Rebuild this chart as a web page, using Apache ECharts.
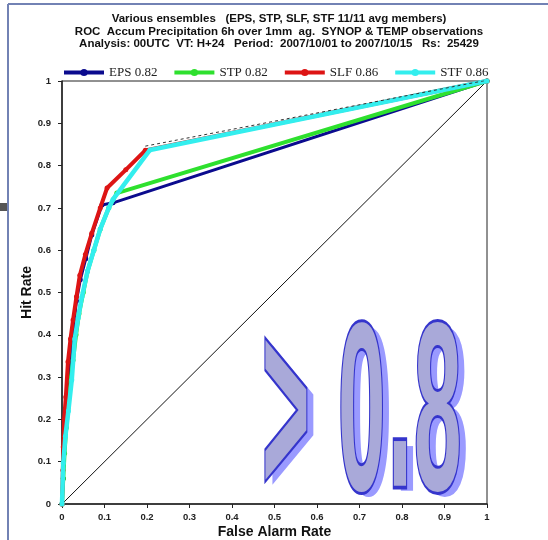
<!DOCTYPE html>
<html>
<head>
<meta charset="utf-8">
<style>
  html, body { margin: 0; padding: 0; background: #ffffff; }
  #chart { width: 548px; height: 540px; }
</style>
<script src="https://cdn.jsdelivr.net/npm/echarts@6/dist/echarts.min.js"></script>
</head>
<body>
<div id="chart"></div>
<script>
// ROC curves: false alarm rate (x) vs hit rate (y) for each ensemble
const epsFar = [0, 0.003, 0.005, 0.008, 0.012, 0.016, 0.021, 0.027, 0.034, 0.043, 0.056, 0.070, 0.094, 0.120, 1];
const epsHit = [0, 0.06, 0.12, 0.18, 0.24, 0.30, 0.36, 0.42, 0.48, 0.53, 0.58, 0.636, 0.707, 0.712, 1];

const stpFar = [0, 0.003, 0.006, 0.010, 0.015, 0.020, 0.026, 0.033, 0.040, 0.050, 0.060, 0.075, 0.090, 0.110, 0.129, 1];
const stpHit = [0, 0.06, 0.12, 0.18, 0.23, 0.29, 0.34, 0.40, 0.45, 0.50, 0.55, 0.60, 0.65, 0.70, 0.735, 1];

const slfFar = [0, 0.002, 0.003, 0.005, 0.009, 0.014, 0.020, 0.026, 0.034, 0.042, 0.055, 0.070, 0.090, 0.106, 0.150, 0.196, 1];
const slfHit = [0, 0.08, 0.135, 0.20, 0.253, 0.336, 0.39, 0.435, 0.49, 0.541, 0.59, 0.64, 0.70, 0.747, 0.79, 0.836, 1];

const stfFar = [0, 0.003, 0.008, 0.015, 0.023, 0.030, 0.038, 0.047, 0.060, 0.075, 0.090, 0.110, 0.120, 0.207, 1];
const stfHit = [0, 0.097, 0.16, 0.22, 0.293, 0.39, 0.44, 0.49, 0.55, 0.60, 0.65, 0.70, 0.72, 0.837, 1];

const seriesNames = ['EPS 0.82', 'STP 0.82', 'SLF 0.86', 'STF 0.86'];
const seriesColors = ['#0b0b8e', '#2ee02e', '#dd1414', '#33eeee'];

const titleLines = [
  'Various ensembles   (EPS, STP, SLF, STF 11/11 avg members)',
  'ROC  Accum Precipitation 6h over 1mm  ag.  SYNOP & TEMP observations',
  'Analysis: 00UTC  VT: H+24   Period:  2007/10/01 to 2007/10/15   Rs:  25429'
];

const tickValues = [0, 0.1, 0.2, 0.3, 0.4, 0.5, 0.6, 0.7, 0.8, 0.9, 1];
const badgeText = '>0.8';

function pairs(xs, ys) { return xs.map((x, i) => [x, ys[i]]); }

const chart = echarts.init(document.getElementById('chart'), null, { renderer: 'canvas' });

const curveData = [pairs(epsFar, epsHit), pairs(stpFar, stpHit), pairs(slfFar, slfHit), pairs(stfFar, stfHit)];
const widths = [3, 4, 4, 4.5];

const curveSeries = curveData.map((d, i) => ({
  name: seriesNames[i],
  type: 'line',
  data: d,
  symbol: 'circle',
  symbolSize: 5,
  showSymbol: true,
  z: 3 + i,
  lineStyle: { color: seriesColors[i], width: widths[i] },
  itemStyle: { color: seriesColors[i] },
  animation: false
}));

const labelFmt = v => (v === 0 ? '0' : v === 1 ? '1' : v.toFixed(1));

const axisCommon = {
  type: 'value',
  min: tickValues[0],
  max: tickValues[tickValues.length - 1],
  interval: 0.1,
  splitLine: { show: false },
  nameMoveOverlap: false,
  axisLine: { show: true, lineStyle: { color: '#222', width: 1.5 } },
  axisTick: { show: true, inside: false, length: 4, lineStyle: { color: '#222' } },
  axisLabel: {
    formatter: labelFmt,
    color: '#222',
    fontFamily: 'Liberation Sans',
    fontWeight: 'bold',
    fontSize: 9.5
  },
  nameTextStyle: {
    color: '#111',
    fontFamily: 'Liberation Sans',
    fontWeight: 'bold',
    fontSize: 14
  }
};

// ">0.8" badge glyphs: condensed outlined characters with a soft offset shadow
const glyphX = [262, 338, 388, 414];
const glyphDy = [0, 0, -21, 0];
const glyphScale = [[0.34, 1.08], [0.355, 1], [0.36, 1.25], [0.355, 1]];
const badgeFont = 'bold 240px "Liberation Sans"';
const badgeBaseY = 424;
const badgeGraphics = [];
badgeText.split('').forEach((ch, i) => {
  const [sx, sy] = glyphScale[i];
  const common = { scaleX: sx, scaleY: sy, originX: 0, originY: 0 };
  const y = badgeBaseY + glyphDy[i];
  badgeGraphics.push(Object.assign({
    type: 'text', x: glyphX[i] + 7, y: y + 5, z: 20,
    style: { text: ch, font: badgeFont, fill: '#9a9aff', verticalAlign: 'middle', align: 'left' }
  }, common));
  badgeGraphics.push(Object.assign({
    type: 'text', x: glyphX[i], y: y, z: 21,
    style: { text: ch, font: badgeFont, fill: '#a9a9d9', stroke: '#3535cc', lineWidth: 6, verticalAlign: 'middle', align: 'left' }
  }, common));
});

chart.setOption({
  animation: false,
  backgroundColor: '#ffffff',
  title: {
    text: titleLines.join('\n'),
    left: 274,
    textAlign: 'center',
    top: 8,
    textStyle: {
      fontFamily: 'Liberation Sans',
      fontWeight: 'bold',
      fontSize: 11.5,
      lineHeight: 12.5,
      color: '#111'
    }
  },
  legend: {
    data: seriesNames,
    left: 62,
    top: 66,
    padding: 0,
    itemGap: 15,
    itemWidth: 40,
    itemHeight: 9,
    lineStyle: { width: 4 },
    textStyle: { fontFamily: 'Liberation Serif', fontSize: 13, color: '#222' }
  },
  grid: {
    left: 62,
    right: 61,
    top: 81,
    bottom: 36,
    show: true,
    borderColor: '#222',
    borderWidth: 1,
    containLabel: false,
    outerBoundsMode: 'none'
  },
  xAxis: Object.assign({}, axisCommon, {
    name: 'False Alarm Rate',
    nameLocation: 'middle',
    nameGap: 21,
    axisLabel: Object.assign({}, axisCommon.axisLabel, { margin: 8 })
  }),
  yAxis: Object.assign({}, axisCommon, {
    name: 'Hit Rate',
    nameLocation: 'middle',
    nameGap: 28,
    axisLabel: Object.assign({}, axisCommon.axisLabel, { margin: 11 })
  }),
  series: [
    {
      name: 'diagonal',
      type: 'line',
      data: [[0, 0], [1, 1]],
      symbol: 'none',
      lineStyle: { color: '#111', width: 1 },
      z: 2,
      silent: true,
      animation: false
    },
    ...curveSeries,
    {
      name: 'edge',
      type: 'line',
      data: [[0.196, 0.846], [1, 1.002]],
      symbol: 'none',
      lineStyle: { color: '#333', width: 1, type: [3, 3] },
      z: 8,
      silent: true,
      animation: false
    }
  ],
  graphic: [
    // page frame
    { type: 'line', shape: { x1: 8, y1: 4, x2: 8, y2: 540 }, style: { stroke: '#7282b4', lineWidth: 2 }, z: 1 },
    { type: 'line', shape: { x1: 8, y1: 4, x2: 548, y2: 4 }, style: { stroke: '#7282b4', lineWidth: 2 }, z: 1 },
    { type: 'rect', shape: { x: 0, y: 203, width: 7, height: 8 }, style: { fill: '#555' }, z: 1 },
    ...badgeGraphics
  ]
});
</script>
</body>
</html>
